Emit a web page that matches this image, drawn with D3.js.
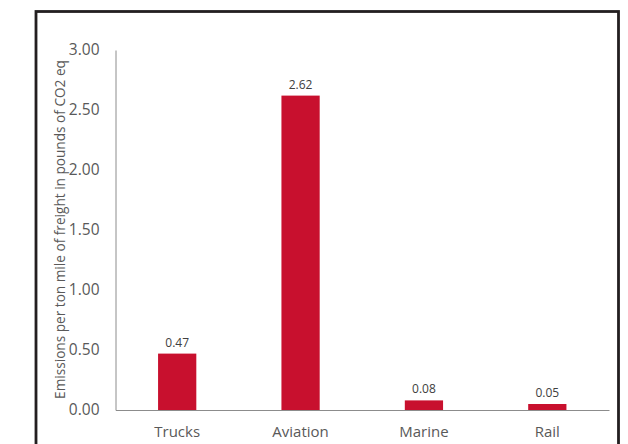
<!DOCTYPE html>
<html>
<head>
<meta charset="utf-8">
<script src="https://cdn.jsdelivr.net/npm/d3@7"></script>
<style>
  html, body { margin: 0; padding: 0; background: #fff; }
  svg { display: block; }
  text { font-family: "Open Sans", "Noto Sans", sans-serif; }
</style>
</head>
<body>
<svg id="chart" width="628" height="444"></svg>
<script>
// Freight emissions by transport mode
const categories = ["Trucks", "Aviation", "Marine", "Rail"];
const values = [0.47, 2.62, 0.08, 0.05];
const yTicks = [0, 0.5, 1, 1.5, 2, 2.5, 3];
const yTitle = "Emissions per ton mile of freight in pounds of CO2 eq";

const svg = d3.select("#chart");
const plot = { left: 115.5, right: 609, top: 50, bottom: 410 };

// outer frame (runs past the bottom edge)
svg.append("rect")
  .attr("x", 36).attr("y", 11.5)
  .attr("width", 582.5).attr("height", 500)
  .attr("fill", "none")
  .attr("stroke", "#231f20")
  .attr("stroke-width", 2.8);

const x = d3.scaleBand()
  .domain(categories)
  .range([plot.left, plot.right])
  .paddingInner(0.69)
  .paddingOuter(0.345);

const y = d3.scaleLinear()
  .domain([0, 3])
  .range([plot.bottom, plot.top]);

// y axis
const yAxis = svg.append("g")
  .attr("transform", `translate(${plot.left},0)`)
  .call(d3.axisLeft(y).tickValues(yTicks).tickFormat(d3.format(".2f")).tickSize(0).tickPadding(16));
yAxis.select(".domain").attr("stroke", "#8c8c8c").attr("stroke-width", 1);
yAxis.selectAll("text")
  .attr("fill", "#595959")
  .style("font-size", "15.5px");

// x axis
const xAxis = svg.append("g")
  .attr("transform", `translate(0,${plot.bottom})`)
  .call(d3.axisBottom(x).tickSize(0).tickPadding(16));
xAxis.select(".domain").attr("stroke", "#8c8c8c").attr("stroke-width", 1);
xAxis.selectAll("text")
  .attr("fill", "#595959")
  .style("font-size", "15px");

// bars
svg.append("g").selectAll("rect")
  .data(categories)
  .join("rect")
  .attr("x", d => x(d))
  .attr("width", x.bandwidth())
  .attr("y", (d, i) => y(values[i]))
  .attr("height", (d, i) => y(0) - y(values[i]))
  .attr("fill", "#c8102e");

// value labels
svg.append("g").selectAll("text")
  .data(categories)
  .join("text")
  .attr("x", d => x(d) + x.bandwidth() / 2)
  .attr("y", (d, i) => y(values[i]) - 7)
  .attr("text-anchor", "middle")
  .attr("fill", "#404040")
  .style("font-size", "12px")
  .text((d, i) => d3.format(".2f")(values[i]));

// y axis title, sized to span the axis height
const title = svg.append("text")
  .attr("transform", `translate(65,229.5) rotate(-90)`)
  .attr("text-anchor", "middle")
  .attr("fill", "#595959")
  .style("font-size", "13px")
  .text(yTitle);
const len = title.node().getComputedTextLength();
title.style("font-size", (13 * 339 / len).toFixed(2) + "px");
</script>
</body>
</html>
